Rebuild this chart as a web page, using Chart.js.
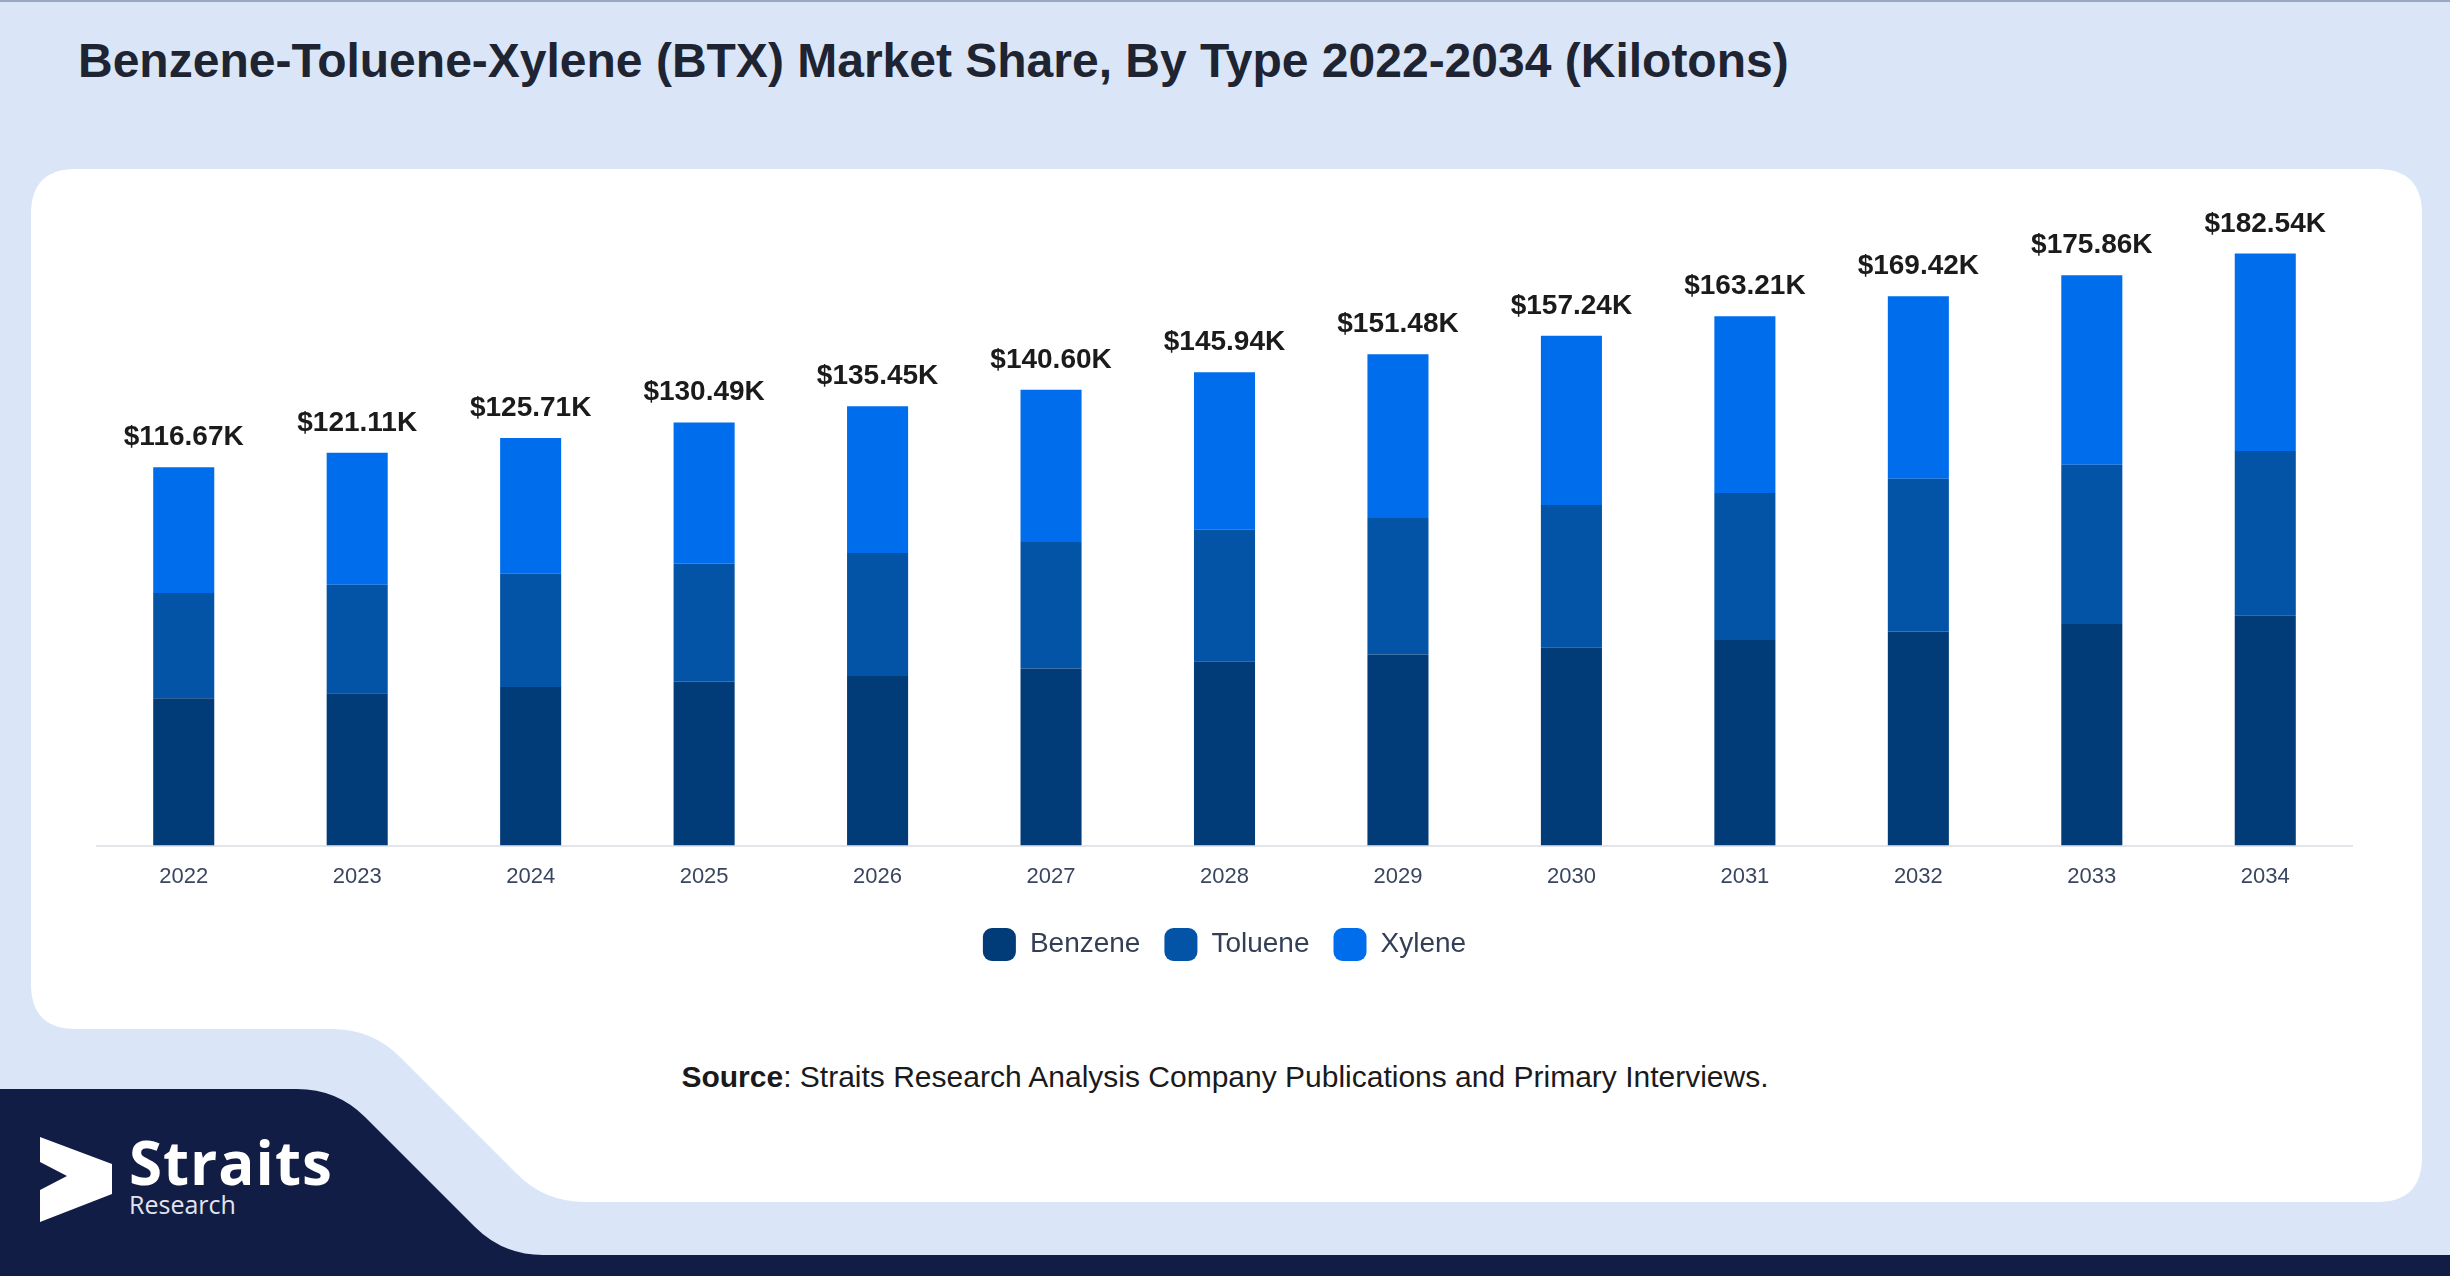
<!DOCTYPE html>
<html>
<head>
<meta charset="utf-8">
<script src="https://cdn.jsdelivr.net/npm/chart.js@4.4.1/dist/chart.umd.min.js"></script>
<style>
  html, body { margin: 0; padding: 0; }
  body {
    width: 2450px; height: 1276px; position: relative; overflow: hidden;
    background: #dae6f8; font-family: "Liberation Sans", Arial, sans-serif;
    border-top: 2px solid #98a7c4; box-sizing: border-box;
  }
  #bg { position: absolute; left: 0; top: 0; }
  #title {
    position: absolute; left: 78px; top: 31px; margin: 0;
    font-size: 48px; font-weight: bold; color: #1e2431; white-space: nowrap;
  }
  #chartBox { position: absolute; left: 31px; top: 167px; width: 2391px; height: 860px; }
  #source {
    position: absolute; left: 0; width: 2450px; top: 1058px; text-align: center;
    font-size: 30px; color: #1a1a1a;
  }
  #logo { position: absolute; left: 129px; top: 1125px; color: #fff; }
  #logo .name { font-family: "Open Sans", sans-serif; font-weight: 700; font-size: 60px; line-height: 70px; letter-spacing: 1px; }
  #logo .sub { font-family: "Open Sans", sans-serif; font-size: 25px; line-height: 26px; color: #e1e5ef; margin-top: -6px; }
</style>
</head>
<body>
<svg id="bg" width="2450" height="1276">
  <path d="M76,167 H2377 Q2422,167 2422,212 V1155 Q2422,1200 2377,1200 H585 Q545,1200 517,1172 L400,1055 Q372,1027 332,1027 H76 Q31,1027 31,982 V212 Q31,167 76,167 Z" fill="#ffffff"/>
  <path d="M0,1087 H297 Q337,1087 365,1115 L475,1225 Q503,1253 543,1253 H2450 V1276 H0 Z" fill="#121d45"/>
  <polygon points="40,1135 112,1162 112,1192 40,1220 40,1188 67,1174 40,1160" fill="#ffffff"/>
</svg>
<h1 id="title">Benzene-Toluene-Xylene (BTX) Market Share, By Type 2022-2034 (Kilotons)</h1>
<div id="chartBox"><canvas id="btxChart"></canvas></div>
<div id="source"><b>Source</b>: Straits Research Analysis Company Publications and Primary Interviews.</div>
<div id="logo"><div class="name">Straits</div><div class="sub">Research</div></div>

<script>
// values (kilotons)
const years = ['2022', '2023', '2024', '2025', '2026', '2027', '2028', '2029', '2030', '2031', '2032', '2033', '2034'];
const benzene = [45.4, 47.0, 48.9, 50.6, 52.3, 54.6, 56.7, 58.9, 61.0, 63.4, 66.0, 68.3, 70.9];
const toluene = [32.5, 33.4, 34.9, 36.4, 37.9, 39.0, 40.7, 42.1, 44.0, 45.3, 47.1, 49.1, 50.8];
const xylene = [38.77, 40.71, 41.91, 43.49, 45.25, 47.0, 48.54, 50.48, 52.24, 54.51, 56.32, 58.46, 60.84];
const totals = [116.67, 121.11, 125.71, 130.49, 135.45, 140.60, 145.94, 151.48, 157.24, 163.21, 169.42, 175.86, 182.54];

const colors = {
  'Benzene': '#023c78',
  'Toluene': '#0353a6',
  'Xylene': '#006eec'
};

// draw the total above each stacked bar
const totalLabelPlugin = {
  id: 'totalLabels',
  afterDatasetsDraw(chart) {
    const ctx = chart.ctx;
    const meta = chart.getDatasetMeta(chart.data.datasets.length - 1);
    ctx.save();
    ctx.font = 'bold 28px "Liberation Sans", Arial, sans-serif';
    ctx.fillStyle = '#1b1b1b';
    ctx.textAlign = 'center';
    ctx.textBaseline = 'alphabetic';
    meta.data.forEach((bar, i) => {
      ctx.fillText('$' + totals[i].toFixed(2) + 'K', bar.x, bar.y - 22);
    });
    ctx.restore();
  }
};

function makeDataset(name, values) {
  return {
    label: name,
    data: values,
    backgroundColor: colors[name],
    borderWidth: 0,
    barPercentage: 0.352,
    categoryPercentage: 1.0
  };
}

const ctx = document.getElementById('btxChart').getContext('2d');
new Chart(ctx, {
  type: 'bar',
  data: {
    labels: years,
    datasets: [
      makeDataset('Benzene', benzene),
      makeDataset('Toluene', toluene),
      makeDataset('Xylene', xylene)
    ]
  },
  options: {
    responsive: true,
    maintainAspectRatio: false,
    animation: false,
    devicePixelRatio: 1,
    layout: { padding: { left: 66, right: 70, top: 28, bottom: 58 } },
    plugins: {
      tooltip: { enabled: false },
      legend: {
        position: 'bottom',
        labels: {
          boxWidth: 33,
          boxHeight: 33,
          useBorderRadius: true,
          borderRadius: 9,
          padding: 24,
          color: '#333f57',
          font: { family: '"Liberation Sans", Arial, sans-serif', size: 28 }
        }
      }
    },
    scales: {
      x: {
        stacked: true,
        grid: { display: false },
        border: { display: true, color: '#e3e5ea', width: 2 },
        ticks: {
          color: '#3a4660',
          padding: 10,
          font: { family: '"Liberation Sans", Arial, sans-serif', size: 22 }
        },
        // leave a bit more room between the labels and the legend
        afterFit(scale) {
          scale.height += 4;
        }
      },
      y: {
        stacked: true,
        display: false,
        min: 0,
        max: 200
      }
    }
  },
  plugins: [totalLabelPlugin]
});
</script>
</body>
</html>
